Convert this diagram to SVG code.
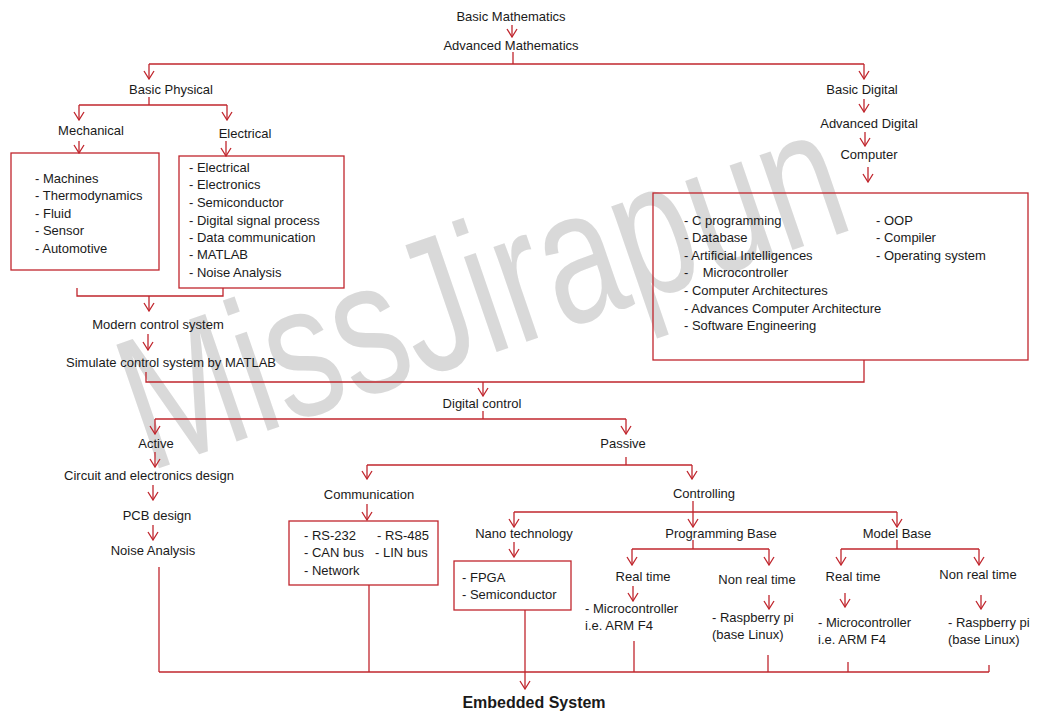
<svg xmlns="http://www.w3.org/2000/svg" width="1040" height="720" viewBox="0 0 1040 720">
<style>
text{font-family:"Liberation Sans",Arial,sans-serif;font-size:13px;fill:#1a1a1a}
.c{text-anchor:middle}
.box{fill:none;stroke:#c0262d;stroke-width:1.3}
.ln{fill:none;stroke:#c0262d;stroke-width:1.3}
.ar{fill:none;stroke:#c0262d;stroke-width:1.3;marker-end:url(#a)}
.wm{font-size:190px;fill:#c4c4c4;fill-opacity:0.65}
.b{font-weight:bold;font-size:16px}
</style>
<defs>
<marker id="a" viewBox="0 0 10 12" refX="9" refY="6" markerWidth="10" markerHeight="12" orient="auto" markerUnits="userSpaceOnUse">
<path d="M1,1 L9,6 L1,11" fill="none" stroke="#c0262d" stroke-width="1.3"/>
</marker>
</defs>
<rect width="1040" height="720" fill="#ffffff"/>
<text class="wm" x="148" y="472" transform="rotate(-19 148 472)" textLength="750" lengthAdjust="spacingAndGlyphs">MissJirapun</text>

<g id="connectors">
<line class="ar" x1="512" y1="25" x2="512" y2="37"/>
<polyline class="ln" points="513,52 513,64"/>
<polyline class="ln" points="149,64 864,64"/>
<line class="ar" x1="149" y1="64" x2="149" y2="79"/>
<line class="ar" x1="864" y1="64" x2="864" y2="79"/>
<line class="ln" x1="149" y1="97" x2="149" y2="105"/>
<line class="ln" x1="79" y1="105" x2="227" y2="105"/>
<line class="ar" x1="79" y1="105" x2="79" y2="120"/>
<line class="ar" x1="227" y1="105" x2="227" y2="120"/>
<line class="ar" x1="79" y1="141" x2="79" y2="153"/>
<line class="ar" x1="226" y1="141" x2="226" y2="156"/>
<polyline class="ln" points="77,288 77,296 223,296 223,288"/>
<line class="ar" x1="149" y1="296" x2="149" y2="311"/>
<line class="ar" x1="148" y1="334" x2="148" y2="350"/>
<polyline class="ln" points="146,372 146,382 864,382 864,360"/>
<line class="ar" x1="483" y1="382" x2="483" y2="396"/>
<line class="ar" x1="864" y1="99" x2="864" y2="112"/>
<line class="ar" x1="865" y1="132" x2="865" y2="146"/>
<line class="ar" x1="868" y1="167" x2="868" y2="182"/>
<line class="ln" x1="483" y1="411" x2="483" y2="419"/>
<line class="ln" x1="155" y1="419" x2="626" y2="419"/>
<line class="ar" x1="155" y1="419" x2="155" y2="434"/>
<line class="ar" x1="626" y1="419" x2="626" y2="434"/>
<line class="ar" x1="155" y1="452" x2="155" y2="467"/>
<line class="ar" x1="153" y1="485" x2="153" y2="500"/>
<line class="ar" x1="153" y1="525" x2="153" y2="540"/>
<line class="ln" x1="626" y1="457" x2="626" y2="465"/>
<line class="ln" x1="367" y1="465" x2="692" y2="465"/>
<line class="ar" x1="367" y1="465" x2="367" y2="479"/>
<line class="ar" x1="692" y1="465" x2="692" y2="479"/>
<line class="ar" x1="367" y1="504" x2="367" y2="520"/>
<line class="ln" x1="514" y1="512" x2="897" y2="512"/>
<line class="ar" x1="693" y1="501" x2="693" y2="527"/>
<line class="ar" x1="514" y1="512" x2="514" y2="527"/>
<line class="ar" x1="897" y1="512" x2="897" y2="527"/>
<line class="ar" x1="514" y1="542" x2="514" y2="557"/>
<line class="ln" x1="693" y1="540" x2="693" y2="549"/>
<line class="ln" x1="632" y1="549" x2="769" y2="549"/>
<line class="ar" x1="632" y1="549" x2="632" y2="565"/>
<line class="ar" x1="769" y1="549" x2="769" y2="565"/>
<line class="ar" x1="633" y1="586" x2="633" y2="601"/>
<line class="ar" x1="769" y1="595" x2="769" y2="609"/>
<line class="ln" x1="897" y1="540" x2="897" y2="549"/>
<line class="ln" x1="841" y1="549" x2="979" y2="549"/>
<line class="ar" x1="841" y1="549" x2="841" y2="565"/>
<line class="ar" x1="979" y1="549" x2="979" y2="565"/>
<line class="ar" x1="845" y1="593" x2="845" y2="607"/>
<line class="ar" x1="981" y1="595" x2="981" y2="609"/>
<line class="ln" x1="159" y1="567" x2="159" y2="672"/>
<line class="ln" x1="369" y1="585" x2="369" y2="672"/>
<line class="ln" x1="634" y1="641" x2="634" y2="672"/>
<line class="ln" x1="768" y1="655" x2="768" y2="672"/>
<line class="ln" x1="848" y1="662" x2="848" y2="672"/>
<line class="ln" x1="989" y1="665" x2="989" y2="672"/>
<line class="ln" x1="159" y1="672" x2="989" y2="672"/>
<line class="ar" x1="525" y1="610" x2="525" y2="689"/>
</g>

<g id="basic-math"><text class="c" x="511" y="21">Basic Mathematics</text></g>
<g id="advanced-math"><text class="c" x="511" y="50">Advanced Mathematics</text></g>
<g id="basic-physical"><text class="c" x="171" y="94">Basic Physical</text></g>
<g id="mechanical"><text class="c" x="91" y="135">Mechanical</text></g>
<g id="electrical"><text class="c" x="245" y="138">Electrical</text></g>
<g id="mechanical-box">
<rect class="box" x="11" y="153" width="148" height="117"/>
<text x="35" y="183">- Machines</text>
<text x="35" y="200">- Thermodynamics</text>
<text x="35" y="218">- Fluid</text>
<text x="35" y="235">- Sensor</text>
<text x="35" y="253">- Automotive</text>
</g>
<g id="electrical-box">
<rect class="box" x="179" y="156" width="165" height="132"/>
<text x="189" y="172">- Electrical</text>
<text x="189" y="189">- Electronics</text>
<text x="189" y="207">- Semiconductor</text>
<text x="189" y="225">- Digital signal process</text>
<text x="189" y="242">- Data communication</text>
<text x="189" y="259">- MATLAB</text>
<text x="189" y="277">- Noise Analysis</text>
</g>
<g id="modern-control"><text class="c" x="158" y="329">Modern control system</text></g>
<g id="simulate"><text class="c" x="171" y="367">Simulate control system by MATLAB</text></g>
<g id="basic-digital"><text class="c" x="862" y="94">Basic Digital</text></g>
<g id="advanced-digital"><text class="c" x="869" y="128">Advanced Digital</text></g>
<g id="computer"><text class="c" x="869" y="159">Computer</text></g>
<g id="computer-box">
<rect class="box" x="653" y="193" width="375" height="167"/>
<text x="684" y="225">- C programming</text>
<text x="684" y="242">- Database</text>
<text x="684" y="260">- Artificial Intelligences</text>
<text x="684" y="277" xml:space="preserve">-    Microcontroller</text>
<text x="684" y="295">- Computer Architectures</text>
<text x="684" y="313">- Advances Computer Architecture</text>
<text x="684" y="330">- Software Engineering</text>
<text x="876" y="225">- OOP</text>
<text x="876" y="242">- Compiler</text>
<text x="876" y="260">- Operating system</text>
</g>
<g id="digital-control"><text class="c" x="482" y="408">Digital control</text></g>
<g id="active"><text class="c" x="156" y="448">Active</text></g>
<g id="circuit"><text class="c" x="149" y="480">Circuit and electronics design</text></g>
<g id="pcb"><text class="c" x="157" y="520">PCB design</text></g>
<g id="noise"><text class="c" x="153" y="555">Noise Analysis</text></g>
<g id="passive"><text class="c" x="623" y="448">Passive</text></g>
<g id="communication"><text class="c" x="369" y="499">Communication</text></g>
<g id="communication-box">
<rect class="box" x="289" y="521" width="149" height="64"/>
<text x="304" y="540">- RS-232</text>
<text x="377" y="540">- RS-485</text>
<text x="304" y="557">- CAN bus</text>
<text x="375" y="557">- LIN bus</text>
<text x="304" y="575">- Network</text>
</g>
<g id="controlling"><text class="c" x="704" y="498">Controlling</text></g>
<g id="nano"><text class="c" x="524" y="538">Nano technology</text></g>
<g id="nano-box">
<rect class="box" x="454" y="561" width="117" height="49"/>
<text x="462" y="582">- FPGA</text>
<text x="462" y="599">- Semiconductor</text>
</g>
<g id="programming-base"><text class="c" x="721" y="538">Programming Base</text></g>
<g id="pb-real"><text class="c" x="643" y="581">Real time</text></g>
<g id="pb-real-item"><text x="585" y="613">- Microcontroller</text><text x="585" y="630">i.e. ARM F4</text></g>
<g id="pb-nonreal"><text class="c" x="757" y="584">Non real time</text></g>
<g id="pb-nonreal-item"><text x="712" y="622">- Raspberry pi</text><text x="712" y="639">(base Linux)</text></g>
<g id="model-base"><text class="c" x="897" y="538">Model Base</text></g>
<g id="mb-real"><text class="c" x="853" y="581">Real time</text></g>
<g id="mb-real-item"><text x="818" y="627">- Microcontroller</text><text x="818" y="644">i.e. ARM F4</text></g>
<g id="mb-nonreal"><text class="c" x="978" y="579">Non real time</text></g>
<g id="mb-nonreal-item"><text x="948" y="627">- Raspberry pi</text><text x="948" y="644">(base Linux)</text></g>
<g id="embedded"><text class="c b" x="534" y="708">Embedded System</text></g>
</svg>
